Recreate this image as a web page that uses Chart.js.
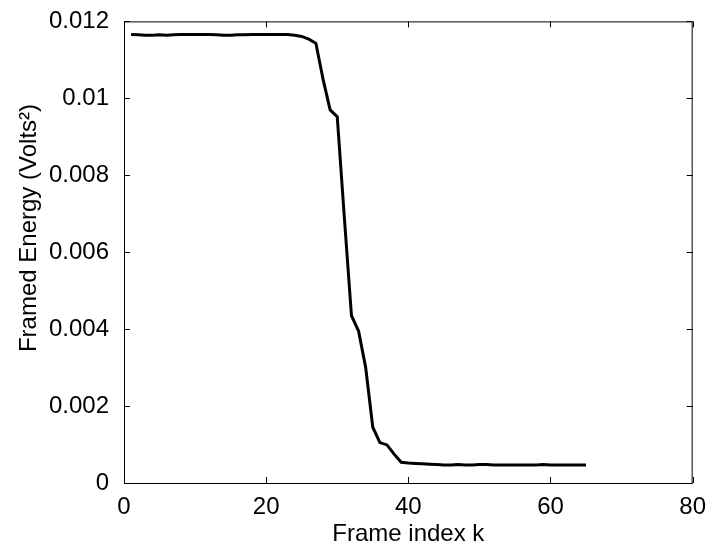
<!DOCTYPE html>
<html>
<head>
<meta charset="utf-8">
<script src="https://cdn.jsdelivr.net/npm/chart.js@4.4.1/dist/chart.umd.min.js"></script>
<style>
  html, body { margin: 0; padding: 0; background: #fff; }
  #wrap { width: 708px; height: 546px; position: relative; }
</style>
</head>
<body>
<div id="wrap"><canvas id="energyChart"></canvas></div>
<script>
// ---- data ----
const frames = [];
for (let k = 1; k <= 65; k++) frames.push(k);

const energy = [
  0.01166, 0.01165, 0.01164, 0.01164, 0.01165, 0.01164, 0.01165, 0.01166, 0.01166, 0.01166,
  0.01166, 0.01166, 0.01165, 0.01164, 0.01164, 0.01165, 0.01165, 0.01166, 0.01166, 0.01166,
  0.01166, 0.01166, 0.01166, 0.01164, 0.01161, 0.01154, 0.01143, 0.01050, 0.00970, 0.00952,
  0.00690, 0.00435, 0.00395, 0.00300, 0.00145, 0.00105, 0.00099, 0.00075, 0.00054, 0.00052,
  0.00051, 0.00050, 0.00049, 0.00048, 0.00047, 0.00047, 0.00048, 0.00047, 0.00047, 0.00048,
  0.00048, 0.00047, 0.00047, 0.00047, 0.00047, 0.00047, 0.00047, 0.00047, 0.00048, 0.00047,
  0.00047, 0.00047, 0.00047, 0.00047, 0.00047
];

const xTicks = [0, 20, 40, 60, 80];
const yTicks = [0, 0.002, 0.004, 0.006, 0.008, 0.01, 0.012];

const xTitle = 'Frame index k';
const yTitle = 'Framed Energy (Volts²)';

const FONT = 'Liberation Sans, Arial, Helvetica, sans-serif';

// 枠線と内向きの目盛り（MATLAB風）
const boxPlugin = {
  id: 'matlabBox',
  afterDraw(chart) {
    const { ctx, chartArea: a, scales } = chart;
    const len = 6;
    ctx.save();
    ctx.strokeStyle = '#000';
    ctx.lineWidth = 1;
    ctx.strokeRect(a.left + 0.5, a.top + 0.5, a.right - a.left - 1, a.bottom - a.top);
    ctx.beginPath();
    xTicks.forEach(v => {
      const px = Math.round(scales.x.getPixelForValue(v)) + 0.5;
      ctx.moveTo(px, a.bottom); ctx.lineTo(px, a.bottom - len);
      ctx.moveTo(px, a.top); ctx.lineTo(px, a.top + len);
    });
    yTicks.forEach(v => {
      const py = Math.round(scales.y.getPixelForValue(v)) + 0.5;
      ctx.moveTo(a.left, py); ctx.lineTo(a.left + len, py);
      ctx.moveTo(a.right, py); ctx.lineTo(a.right - len, py);
    });
    ctx.stroke();

    // y軸タイトル（縦書き）
    ctx.fillStyle = '#000';
    ctx.font = '24px ' + FONT;
    ctx.textAlign = 'center';
    ctx.textBaseline = 'middle';
    ctx.translate(29, 228);
    ctx.rotate(-Math.PI / 2);
    ctx.fillText(yTitle, 0, 0);
    ctx.restore();
  }
};

new Chart(document.getElementById('energyChart'), {
  type: 'line',
  data: {
    datasets: [{
      data: frames.map((k, i) => ({ x: k, y: energy[i] })),
      borderColor: '#000',
      borderWidth: 3,
      pointRadius: 0,
      tension: 0,
      fill: false,
    }]
  },
  options: {
    responsive: true,
    maintainAspectRatio: false,
    animation: false,
    layout: { padding: { left: 0, top: 20, right: 15, bottom: 0 } },
    plugins: { legend: { display: false }, tooltip: { enabled: false } },
    scales: {
      x: {
        type: 'linear',
        min: 0,
        max: 80,
        grid: { display: false },
        border: { display: false },
        afterBuildTicks: s => { s.ticks = xTicks.map(v => ({ value: v })); },
        afterFit: s => { s.height = 63; },
        ticks: {
          color: '#000',
          padding: 2,
          maxRotation: 0,
          font: { family: FONT, size: 24 },
          callback: v => String(v)
        },
        title: {
          display: true,
          text: xTitle,
          color: '#000',
          font: { family: FONT, size: 24, lineHeight: 1 },
          padding: { top: 0, bottom: 0 }
        }
      },
      y: {
        min: 0,
        max: 0.012,
        grid: { display: false },
        border: { display: false },
        afterBuildTicks: s => { s.ticks = yTicks.map(v => ({ value: v })); },
        afterFit: s => { s.width = 124; },
        ticks: {
          color: '#000',
          padding: 7,
          font: { family: FONT, size: 24 },
          callback: v => String(Number(v.toFixed(3)))
        }
      }
    }
  },
  plugins: [boxPlugin]
});
</script>
</body>
</html>
